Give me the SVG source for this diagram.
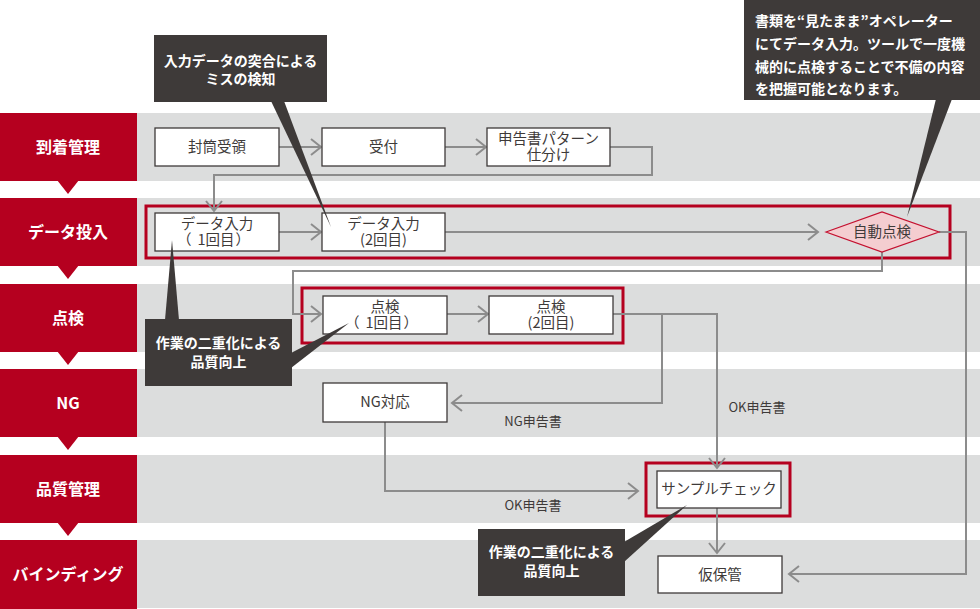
<svg xmlns="http://www.w3.org/2000/svg" width="980" height="609" viewBox="0 0 980 609">
<defs>
<style>
.lane{fill:#b5001f}
.band{fill:#dcdddd}
.lbl{font-family:"Noto Sans CJK JP","Noto Sans",sans-serif;font-weight:bold;font-size:16px;fill:#fff;text-anchor:middle}
.box{fill:#fff;stroke:#3e3a39;stroke-width:1.3}
.t{font-family:"Noto Sans CJK JP","Noto Sans",sans-serif;font-size:14.5px;fill:#3e3a39;text-anchor:middle}
.s{font-family:"Noto Sans CJK JP","Noto Sans",sans-serif;font-size:13px;fill:#3e3a39;text-anchor:middle}
.frame{fill:none;stroke:#b5001f;stroke-width:3}
.con{fill:none;stroke:#8c8c8c;stroke-width:2}
.call{fill:#3e3a39}
.ct{font-family:"Noto Sans CJK JP","Noto Sans",sans-serif;font-weight:bold;font-size:14px;fill:#fff}
</style>
<marker id="ah" markerUnits="userSpaceOnUse" markerWidth="14" markerHeight="20" refX="11" refY="9" orient="auto" overflow="visible">
<path d="M1,1 L11,9 L1,17" fill="none" stroke="#8c8c8c" stroke-width="2"/>
</marker>
</defs>
<rect width="980" height="609" fill="#fff"/>
<g id="lanes">
<rect class="band" x="137" y="113" width="843" height="68"/>
<rect class="band" x="137" y="198" width="843" height="68"/>
<rect class="band" x="137" y="284" width="843" height="68"/>
<rect class="band" x="137" y="369" width="843" height="68"/>
<rect class="band" x="137" y="455" width="843" height="68"/>
<rect class="band" x="137" y="540" width="843" height="68"/>
<rect class="lane" x="0" y="113" width="137" height="68"/>
<rect class="lane" x="0" y="198" width="137" height="68"/>
<rect class="lane" x="0" y="284" width="137" height="68"/>
<rect class="lane" x="0" y="369" width="137" height="68"/>
<rect class="lane" x="0" y="455" width="137" height="68"/>
<rect class="lane" x="0" y="540" width="137" height="69"/>
<polygon class="lane" points="57,180 79,180 68,194"/>
<polygon class="lane" points="57,265 79,265 68,279"/>
<polygon class="lane" points="57,351 79,351 68,365"/>
<polygon class="lane" points="57,436 79,436 68,450"/>
<polygon class="lane" points="57,522 79,522 68,536"/>
<text class="lbl" x="68" y="153">到着管理</text>
<text class="lbl" x="68" y="238">データ投入</text>
<text class="lbl" x="68" y="324">点検</text>
<text class="lbl" x="68" y="409">NG</text>
<text class="lbl" x="68" y="495">品質管理</text>
<text class="lbl" x="68" y="580">バインディング</text>
</g>
<g id="frames">
<rect class="frame" x="146" y="206" width="804" height="52"/>
<rect class="frame" x="302" y="288" width="321" height="55"/>
<rect class="frame" x="646" y="463" width="144" height="53"/>
</g>
<g id="connectors">
<path class="con" d="M279,147 H321" marker-end="url(#ah)"/>
<path class="con" d="M445,147 H486" marker-end="url(#ah)"/>
<path class="con" d="M610,147 H652 V175 H214 V211" marker-end="url(#ah)"/>
<path class="con" d="M279,232 H321" marker-end="url(#ah)"/>
<path class="con" d="M445,232 H818" marker-end="url(#ah)"/>
<path class="con" d="M939,232 H966 V574 H789" marker-end="url(#ah)"/>
<path class="con" d="M882,252 V271 H293 V314 H321" marker-end="url(#ah)"/>
<path class="con" d="M447,314 H488" marker-end="url(#ah)"/>
<path class="con" d="M613,314 H717 V468" marker-end="url(#ah)"/>
<path class="con" d="M662,314 V403 H452" marker-end="url(#ah)"/>
<path class="con" d="M385,422 V491 H638" marker-end="url(#ah)"/>
<path class="con" d="M717,508 V553" marker-end="url(#ah)"/>
<text class="s" x="533" y="426">NG申告書</text>
<text class="s" x="757" y="412">OK申告書</text>
<text class="s" x="533" y="510">OK申告書</text>
</g>
<g id="n1"><rect class="box" x="155" y="128" width="124" height="38"/><text class="t" x="217" y="152">封筒受領</text></g>
<g id="n2"><rect class="box" x="322" y="128" width="123" height="38"/><text class="t" x="383.5" y="152">受付</text></g>
<g id="n3"><rect class="box" x="487" y="128" width="123" height="38"/><text class="t" x="548.5" y="144">申告書パターン</text><text class="t" x="548.5" y="160">仕分け</text></g>
<g id="n4"><rect class="box" x="155" y="213" width="124" height="38"/><text class="t" x="217" y="229">データ入力</text><text class="t" x="213.5" y="245">（<tspan dx="6">1回目</tspan><tspan dx="1">）</tspan></text></g>
<g id="n5"><rect class="box" x="322" y="213" width="123" height="38"/><text class="t" x="383.5" y="229">データ入力</text><text class="t" x="383.5" y="245">(2回目)</text></g>
<g id="n6"><polygon points="826,232 882,212 939,232 882,252" fill="#f4cdd0" stroke="#c4102f" stroke-width="1.2"/><text class="t" x="882" y="237">自動点検</text></g>
<g id="n7"><rect class="box" x="323" y="296" width="124" height="38"/><text class="t" x="385" y="312">点検</text><text class="t" x="381.5" y="328">（<tspan dx="6">1回目</tspan><tspan dx="1">）</tspan></text></g>
<g id="n8"><rect class="box" x="489" y="296" width="124" height="38"/><text class="t" x="551" y="312">点検</text><text class="t" x="551" y="328">(2回目)</text></g>
<g id="n9"><rect class="box" x="323" y="383" width="124" height="39"/><text class="t" x="385" y="407">NG対応</text></g>
<g id="n10"><rect class="box" x="657" y="471" width="124" height="37"/><text class="t" x="719" y="494">サンプルチェック</text></g>
<g id="n11"><rect class="box" x="658" y="556" width="124" height="37"/><text class="t" x="720" y="580">仮保管</text></g>
<g id="c1">
<rect class="call" x="744" y="0" width="236" height="100"/>
<polygon class="call" points="936,99 952,99 907,217"/>
<text class="ct" x="755" y="26">書類を“見たまま”オペレーター</text>
<text class="ct" x="755" y="49">にてデータ入力。ツールで一度機</text>
<text class="ct" x="755" y="72">械的に点検することで不備の内容</text>
<text class="ct" x="755" y="94">を把握可能となります。</text>
</g>
<g id="c2">
<rect class="call" x="154" y="35" width="173" height="67"/>
<polygon class="call" points="271,101 284,101 331,227"/>
<text class="ct" x="240.5" y="66" text-anchor="middle">入力データの突合による</text>
<text class="ct" x="240.5" y="84" text-anchor="middle">ミスの検知</text>
</g>
<g id="c3">
<rect class="call" x="145" y="319" width="147" height="67"/>
<polygon class="call" points="165,320 172,240 179,320"/>
<polygon class="call" points="291,353 349,323 291,368"/>
<text class="ct" x="218.5" y="348" text-anchor="middle">作業の二重化による</text>
<text class="ct" x="218.5" y="367" text-anchor="middle">品質向上</text>
</g>
<g id="c4">
<rect class="call" x="478" y="529" width="147" height="67"/>
<polygon class="call" points="624,542 687,505 624,562"/>
<text class="ct" x="551.5" y="557" text-anchor="middle">作業の二重化による</text>
<text class="ct" x="551.5" y="576" text-anchor="middle">品質向上</text>
</g>
</svg>
